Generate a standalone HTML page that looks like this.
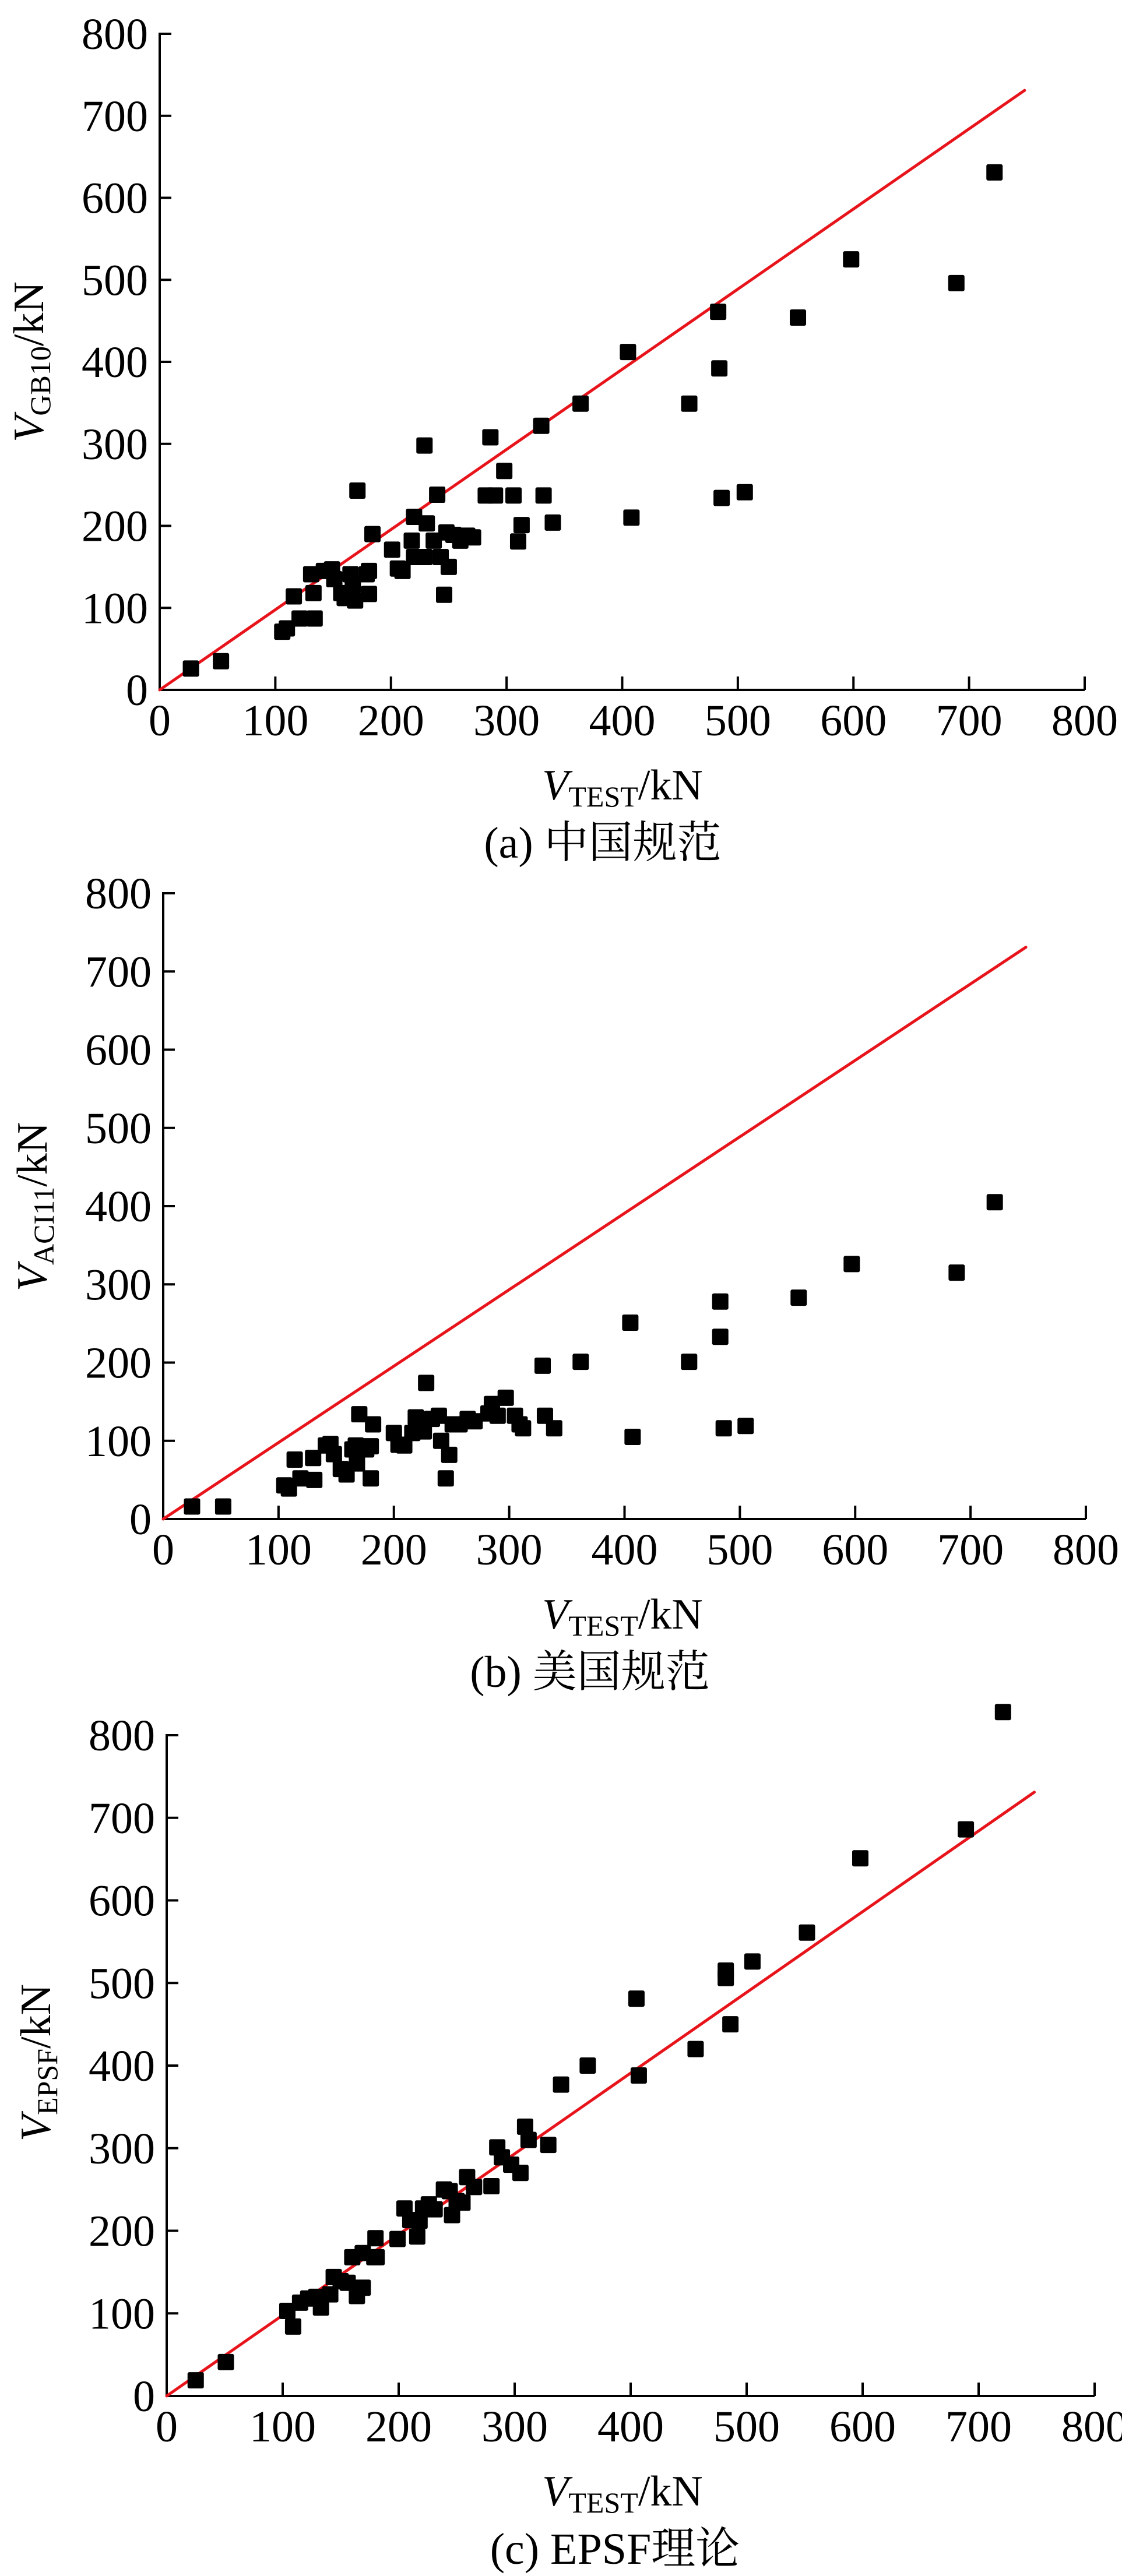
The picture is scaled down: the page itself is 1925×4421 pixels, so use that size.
<!DOCTYPE html>
<html><head><meta charset="utf-8"><style>
html,body{margin:0;padding:0;background:#fff;}
svg{display:block;}
text{font-family:"Liberation Serif","Noto Serif CJK SC",serif;fill:#000;}
</style></head><body>
<svg id="chart" width="1925" height="4421" viewBox="0 0 1925 4421" xmlns="http://www.w3.org/2000/svg"></svg>
<script>
// Panel (a) GB10
const aTest=[27,53,106,110,116,121,134,133,131,142,149,151,157,160,165,167,169,171,179,181,181,184,201,206,210,218,220,220,229,229,231,237,240,243,246,248,250,254,260,266,271,282,286,290,298,306,310,313,330,332,340,364,405,408,458,483,484,486,506,552,598,689,722];
const aPred=[26,35,71,75,114,87,87,118,141,145,147,135,118,112,141,128,109,243,141,117,145,190,171,148,145,182,211,162,162,298,203,182,238,162,116,192,150,189,182,188,186,237,308,237,267,237,181,201,322,237,204,349,412,210,349,461,392,234,241,454,525,496,631];
// Panel (b) ACI11
const bTest=[25,52,105,109,114,119,130,131,141,145,148,154,159,164,167,168,170,176,180,180,182,200,204,209,216,219,223,228,226,233,239,241,245,248,251,257,264,270,282,285,290,297,305,309,312,329,331,339,362,405,407,456,483,483,486,505,551,597,688,721];
const bPred=[16,16,43,39,76,52,78,50,94,96,83,64,57,89,94,71,134,89,52,93,121,110,95,94,110,130,121,174,112,128,132,100,52,82,121,121,128,125,135,147,132,155,132,121,116,196,132,116,201,251,105,201,278,233,116,119,283,326,315,405];
// Panel (c) EPSF
const cTest=[25,51,104,109,115,122,129,133,141,144,150,156,160,164,169,169,179,180,181,199,205,210,216,218,221,226,231,239,244,246,250,255,259,265,280,285,289,297,305,309,312,329,340,363,405,407,456,482,482,486,505,552,598,689,721];
const cPred=[19,41,103,84,113,118,120,107,123,144,139,137,168,121,131,173,168,191,168,190,227,213,193,212,227,232,226,250,248,219,236,234,265,253,254,301,289,280,270,326,310,304,377,400,481,388,420,515,506,450,526,561,651,686,828];
const xTicks=[0,100,200,300,400,500,600,700,800];
const yTicks=[0,100,200,300,400,500,600,700,800];
const refLine=[[0,0],[748,731]];

const NS="http://www.w3.org/2000/svg";
const svg=document.getElementById('chart');
function mk(tag,attrs,parent){const e=document.createElementNS(NS,tag);for(const k in attrs)e.setAttribute(k,attrs[k]);(parent||svg).appendChild(e);return e;}

function panel(id,P,xs,ys,sub,caption,capX){
  const g=mk('g',{});
  
  
  const sx=v=>P.x0+(P.x1-P.x0)*v/800;
  const sy=v=>P.y0-(P.y0-P.y1)*v/800;
  const ax=mk('path',{d:`M${P.x0} ${P.y1-2} L${P.x0} ${P.y0} L${P.x1} ${P.y0}`,fill:'none',stroke:'#000','stroke-width':4},g);
  
  
  xTicks.forEach(t=>{
    if(t>0){const tk=mk('line',{x1:sx(t),x2:sx(t),y1:P.y0,y2:P.y0-23,stroke:'#000','stroke-width':4},g);
    
    }
    const tl=mk('text',{x:sx(t),y:P.y0+78,'text-anchor':'middle','font-size':76},g);
    tl.textContent=t;
    
    
  });
  yTicks.forEach(t=>{
    if(t>0){const tk=mk('line',{x1:P.x0,x2:P.x0+20,y1:sy(t),y2:sy(t),stroke:'#000','stroke-width':4},g);
    
    }
    const tl=mk('text',{x:P.x0-20,y:sy(t)+26,'text-anchor':'end','font-size':76},g);
    tl.textContent=t;
    
    
  });
  const rl=mk('line',{x1:sx(refLine[0][0]),y1:sy(refLine[0][1]),x2:sx(refLine[1][0]),y2:sy(refLine[1][1]),stroke:'#e8141b','stroke-width':5,'stroke-linecap':'round'},g);
  
  
  xs.forEach((v,i)=>{
    const r=mk('rect',{x:sx(v)-14,y:sy(ys[i])-14,width:28,height:28,rx:3,fill:'#000'},g);
    
    
  });
  const yt=mk('text',{transform:`translate(${P.x0-200},${P.yc}) rotate(-90)`,'text-anchor':'middle','font-size':74},g);
  yt.innerHTML=`<tspan font-style="italic">V</tspan><tspan font-size="50" dy="12">${sub}</tspan><tspan dy="-12">/kN</tspan>`;
  
  
  const xt=mk('text',{x:1068,y:P.y0+188,'text-anchor':'middle','font-size':74},g);
  xt.innerHTML=`<tspan font-style="italic">V</tspan><tspan font-size="50" dy="12">TEST</tspan><tspan dy="-12">/kN</tspan>`;
  
  
  const cp=mk('text',{x:capX,y:P.y0+288,'text-anchor':'middle','font-size':76},g);
  cp.textContent=caption;
  
  
}
panel('a',{x0:274,x1:1861,y0:1184,y1:58,yc:621},aTest,aPred,'GB10','(a) 中国规范',1034);
panel('b',{x0:280,x1:1863,y0:2607,y1:1533,yc:2071},bTest,bPred,'ACI11','(b) 美国规范',1012);
panel('c',{x0:286,x1:1878,y0:4112,y1:2978,yc:3540},cTest,cPred,'EPSF','(c) EPSF理论',1055);
</script>
</body></html>
